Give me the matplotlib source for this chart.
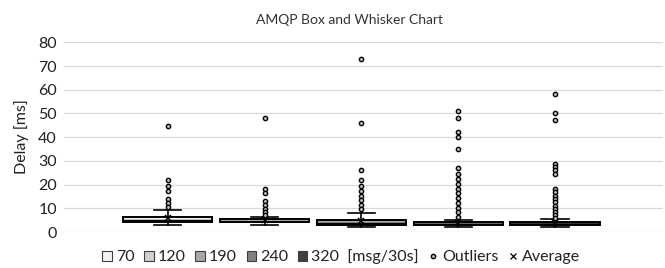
import matplotlib
matplotlib.use('Agg')

import matplotlib.pyplot as plt
from matplotlib.patches import Patch
from matplotlib.lines import Line2D

plt.rcParams['font.family'] = ['Lato', 'DejaVu Sans']

# ── Data ──────────────────────────────────────────────────────────────
rates = ['70', '120', '190', '240', '320']
q1 = [4.2, 4.1, 2.9, 3.0, 3.0]
q3 = [6.4, 5.4, 5.2, 4.3, 4.3]
medians = [5.3, 4.7, 3.8, 3.6, 3.6]
means = [5.9, 5.0, 4.5, 3.9, 3.9]
whis_lo = [3.1, 3.1, 2.0, 2.0, 2.0]
whis_hi = [9.3, 6.2, 8.1, 5.2, 5.4]
outliers = [
    [44.7, 22.1, 19.3, 17.2, 14.1, 12.3, 10.7],
    [48.0, 18.2, 16.3, 13.3, 11.4, 9.9, 8.5, 7.4],
    [73.0, 46.1, 26.0, 22.0, 19.3, 17.2, 15.3, 13.4, 11.5, 9.6],
    [51.0, 48.0, 42.2, 40.1, 35.1, 27.0, 24.4, 22.3, 20.3, 18.3,
     16.3, 14.3, 12.3, 10.3, 8.3, 6.5],
    [58.2, 50.2, 47.2, 28.5, 27.3, 26.0, 24.3, 18.2, 16.8, 15.4,
     14.0, 12.6, 11.2, 9.8, 8.4, 7.0, 5.8],
]
box_colors = ['#f2f2f2', '#d0d0d0', '#a6a6a6', '#808080', '#404040']

stats = []
for i in range(len(rates)):
    stats.append(dict(q1=q1[i], q3=q3[i], med=medians[i], mean=means[i],
                      whislo=whis_lo[i], whishi=whis_hi[i],
                      fliers=outliers[i], label=rates[i]))

# ── Figure ────────────────────────────────────────────────────────────
fig = plt.figure(figsize=(6.65, 2.68), dpi=100)
ax = fig.add_axes([0.096, 0.134, 0.901, 0.708])

positions = [1, 2, 3, 4, 5]
bp = ax.bxp(stats, positions=positions, widths=0.92, capwidths=0.28,
            patch_artist=True, showmeans=True,
            boxprops=dict(edgecolor='black', linewidth=1.4),
            medianprops=dict(color='black', linewidth=1.0),
            whiskerprops=dict(color='black', linewidth=1.2),
            capprops=dict(color='black', linewidth=1.2),
            flierprops=dict(marker='o', markersize=3.1, markerfacecolor='#bfbfbf',
                            markeredgecolor='black', markeredgewidth=1.0,
                            linestyle='none'),
            meanprops=dict(marker='x', markersize=5, markeredgecolor='black',
                           markeredgewidth=1.1))
for patch, c in zip(bp['boxes'], box_colors):
    patch.set_facecolor(c)

ax.set_xlim(-0.075, 6.116)
ax.set_ylim(0, 80)
ax.set_yticks(range(0, 81, 10))
ax.set_xticks([])
ax.tick_params(axis='y', length=0, pad=5, labelsize=11.5, labelcolor='#222222')
for s in ax.spines.values():
    s.set_visible(False)
ax.grid(axis='y', color='#d9d9d9', linewidth=0.9)
ax.set_axisbelow(True)

fig.text(0.033, 0.49, 'Delay [ms]', rotation=90, ha='center', va='center',
         fontsize=11.5, color='#222222')
fig.text(0.525, 0.925, 'AMQP Box and Whisker Chart', ha='center', va='center',
         fontsize=10, color='#333333')

# ── Legend ────────────────────────────────────────────────────────────
handles = [Patch(facecolor=c, edgecolor='#404040', linewidth=0.8) for c in box_colors]
labels = rates[:-1] + [rates[-1] + '  [msg/30s]']
handles.append(Line2D([], [], marker='o', linestyle='none', markersize=3.1,
                      markerfacecolor='#bfbfbf', markeredgecolor='black',
                      markeredgewidth=1.0))
labels.append('Outliers')
handles.append(Line2D([], [], marker='x', linestyle='none', markersize=5,
                      markeredgecolor='black', markeredgewidth=0.9))
labels.append('Average')
leg = fig.legend(handles, labels, loc='center', bbox_to_anchor=(0.513, 0.042),
                 ncol=7, frameon=False, fontsize=11.5, handlelength=0.6,
                 handleheight=0.6, handletextpad=0.25, columnspacing=0.6)
for t in leg.get_texts():
    t.set_color('#222222')

fig.savefig('out.png', dpi=100)
